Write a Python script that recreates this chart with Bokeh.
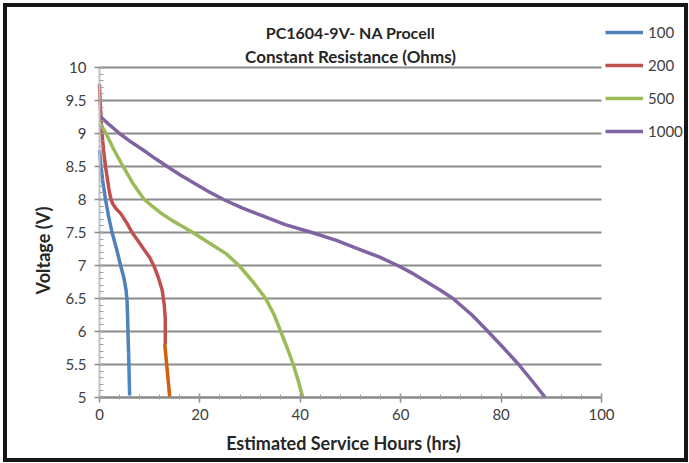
import math
from bokeh.plotting import figure
from bokeh.models import Range1d, Legend, LegendItem, Label, FixedTicker
from bokeh.embed import file_html
from bokeh.resources import INLINE

# ---- data ----
title_lines = ["PC1604-9V- NA Procell", "Constant Resistance (Ohms)"]
x_label = "Estimated Service Hours (hrs)"
y_label = "Voltage (V)"
series_names = ["100", "200", "500", "1000"]

hours_100 = [0.0, 0.3, 0.7, 1.2, 1.8, 2.5, 3.4, 4.2, 4.9, 5.3, 5.5, 5.6, 5.7, 5.8]
volts_100 = [8.75, 8.5, 8.25, 8.0, 7.75, 7.5, 7.25, 7.0, 6.8, 6.62, 6.45, 6.2, 5.9, 5.67]
hours_100_end = [5.8, 6.0]
volts_100_end = [5.67, 5.03]

hours_200 = [0.0, 0.1, 0.3, 0.5, 0.8, 1.2, 1.7, 2.0, 2.3, 2.6, 3.3, 4.2, 5.4, 6.5, 7.7, 8.8, 10.0, 10.8, 11.8, 12.5, 12.9, 13.1, 13.1]
volts_200 = [9.75, 9.5, 9.25, 9.0, 8.75, 8.5, 8.25, 8.1, 8.0, 7.94, 7.86, 7.79, 7.65, 7.5, 7.37, 7.25, 7.12, 7.0, 6.8, 6.62, 6.4, 6.2, 5.81]
hours_200_end = [13.0, 14.0]
volts_200_end = [5.81, 5.0]

hours_500 = [0.0, 1.3, 2.9, 4.7, 6.6, 8.9, 11.0, 12.5, 14.5, 16.8, 18.6, 22.1, 25.2, 27.8, 30.6, 33.1, 34.8, 36.1, 37.4, 38.6, 39.6, 40.5]
volts_500 = [9.17, 9.0, 8.75, 8.5, 8.25, 8.0, 7.87, 7.78, 7.68, 7.58, 7.5, 7.33, 7.18, 7.0, 6.75, 6.5, 6.25, 6.0, 5.75, 5.5, 5.25, 5.0]

hours_1000 = [0.0, 2.0, 4.0, 6.3, 8.7, 11.1, 13.5, 16.1, 18.8, 21.7, 24.7, 28.5, 32.5, 37.0, 42.3, 47.2, 51.5, 55.7,
              59.4, 62.4, 65.2, 68.0, 70.4, 74.2, 77.4, 80.5, 83.5, 86.2, 88.8]
volts_1000 = [9.27, 9.13, 9.0, 8.87, 8.75, 8.62, 8.5, 8.37, 8.25, 8.12, 8.0, 7.87, 7.75, 7.62, 7.5, 7.38, 7.25, 7.13,
              7.0, 6.88, 6.75, 6.62, 6.5, 6.25, 6.0, 5.75, 5.5, 5.25, 5.0]

x_bounds = (0, 100)
y_bounds = (5, 10)
x_ticks = [0, 20, 40, 60, 80, 100]
x_minor = [v for v in range(0, 101, 4)]
y_ticks = [5, 5.5, 6, 6.5, 7, 7.5, 8, 8.5, 9, 9.5, 10]
y_minor = [round(5 + 0.1 * i, 1) for i in range(51)]
y_tick_labels = {5: "5", 5.5: "5.5", 6: "6", 6.5: "6.5", 7: "7", 7.5: "7.5",
                 8: "8", 8.5: "8.5", 9: "9", 9.5: "9.5", 10: "10"}

colors = ["#4F81BD", "#C0504D", "#9BBB59", "#8064A2"]
color_100_end = "#4A86C8"
color_200_end = "#D0600E"

FONT = "Lato"
TXT = "#404040"
DARK = "#262626"

# The frame covers the whole canvas so that titles, legend and axis titles are
# drawn inside it; the axes sit at fixed data locations and are bounded.
p = figure(width=685, height=459, output_backend="svg", toolbar_location=None, title=None,
           x_range=Range1d(-18.327, 118.127), y_range=Range1d(3.9545, 10.909),
           min_border=0, min_border_left=0, min_border_right=0,
           min_border_top=0, min_border_bottom=0)
p.styles = {"border": "4px solid #161616", "margin-left": "3px", "margin-top": "3px",
            "overflow": "hidden"}
p.outline_line_color = None
p.background_fill_color = "white"
p.border_fill_color = "white"

# grid
p.xgrid.visible = False
p.ygrid.ticker = FixedTicker(ticks=y_ticks)
p.ygrid.bounds = y_bounds
p.ygrid.cross_bounds = x_bounds
p.ygrid.grid_line_color = "#8C8C8C"
p.ygrid.grid_line_width = 2

# axes
xa = p.xaxis[0]
xa.fixed_location = y_bounds[0]
xa.bounds = x_bounds
xa.ticker = FixedTicker(ticks=x_ticks, minor_ticks=x_minor)
xa.axis_line_color = "#8A8A8A"
xa.axis_line_width = 2
xa.major_tick_line_color = "#8A8A8A"
xa.major_tick_line_width = 1.5
xa.major_tick_in = 4
xa.major_tick_out = 5
xa.minor_tick_line_color = "#9A9A9A"
xa.minor_tick_in = 3
xa.minor_tick_out = 2
xa.major_label_text_font = FONT
xa.major_label_text_font_size = "15px"
xa.major_label_text_color = TXT
xa.major_label_standoff = 7

ya = p.yaxis[0]
ya.fixed_location = x_bounds[0]
ya.bounds = y_bounds
ya.ticker = FixedTicker(ticks=y_ticks, minor_ticks=y_minor)
ya.major_label_overrides = {k: v for k, v in y_tick_labels.items()}
ya.axis_line_color = "#BFC4CC"
ya.axis_line_width = 2
ya.major_tick_line_color = "#8A8A8A"
ya.major_tick_line_width = 1.5
ya.major_tick_in = 4
ya.major_tick_out = 5
ya.minor_tick_line_color = "#A0A0A0"
ya.minor_tick_in = 4
ya.minor_tick_out = 0
ya.major_label_text_font = FONT
ya.major_label_text_font_size = "15px"
ya.major_label_text_color = TXT
ya.major_label_standoff = 8

# axis titles (as labels, placed like the reference)
p.add_layout(Label(x=48.6, y=4.303, text=x_label, text_align="center", text_baseline="middle",
                   text_font=FONT, text_font_style="bold", text_font_size="18px", text_color=DARK))
p.add_layout(Label(x=-11.35, y=7.227, text=y_label, angle=math.pi / 2, text_align="center",
                   text_baseline="middle", text_font=FONT, text_font_style="bold",
                   text_font_size="18px", text_color=DARK))

# curves
W = 3.5
kw = dict(line_width=W, line_join="round")
r100 = p.line(hours_100, volts_100, line_color=colors[0], **kw)
p.line(hours_100_end, volts_100_end, line_color=color_100_end, **kw)
r200 = p.line(hours_200, volts_200, line_color=colors[1], **kw)
p.line(hours_200_end, volts_200_end, line_color=color_200_end, **kw)
r500 = p.line(hours_500, volts_500, line_color=colors[2], **kw)
r1000 = p.line(hours_1000, volts_1000, line_color=colors[3], **kw)

legend = Legend(items=[LegendItem(label=n, renderers=[r]) for n, r in
                       zip(series_names, [r100, r200, r500, r1000])],
                location=(598, 325), orientation="vertical")
legend.glyph_width = 38
legend.glyph_height = 20
legend.label_height = 20
legend.spacing = 13
legend.padding = 0
legend.margin = 0
legend.label_standoff = 5
legend.border_line_color = None
legend.background_fill_alpha = 0
legend.label_text_font = FONT
legend.label_text_font_size = "15px"
legend.label_text_color = TXT
p.add_layout(legend, "center")

# title (two lines, centred over the data area)
for txt, yv, fs in zip(title_lines, [10.53, 10.167], ["16px", "17px"]):
    p.add_layout(Label(x=50, y=yv, text=txt, text_align="center", text_baseline="middle",
                       text_font=FONT, text_font_style="bold", text_font_size=fs,
                       text_color=DARK))

open("out.html", "w").write(file_html(p, INLINE))
